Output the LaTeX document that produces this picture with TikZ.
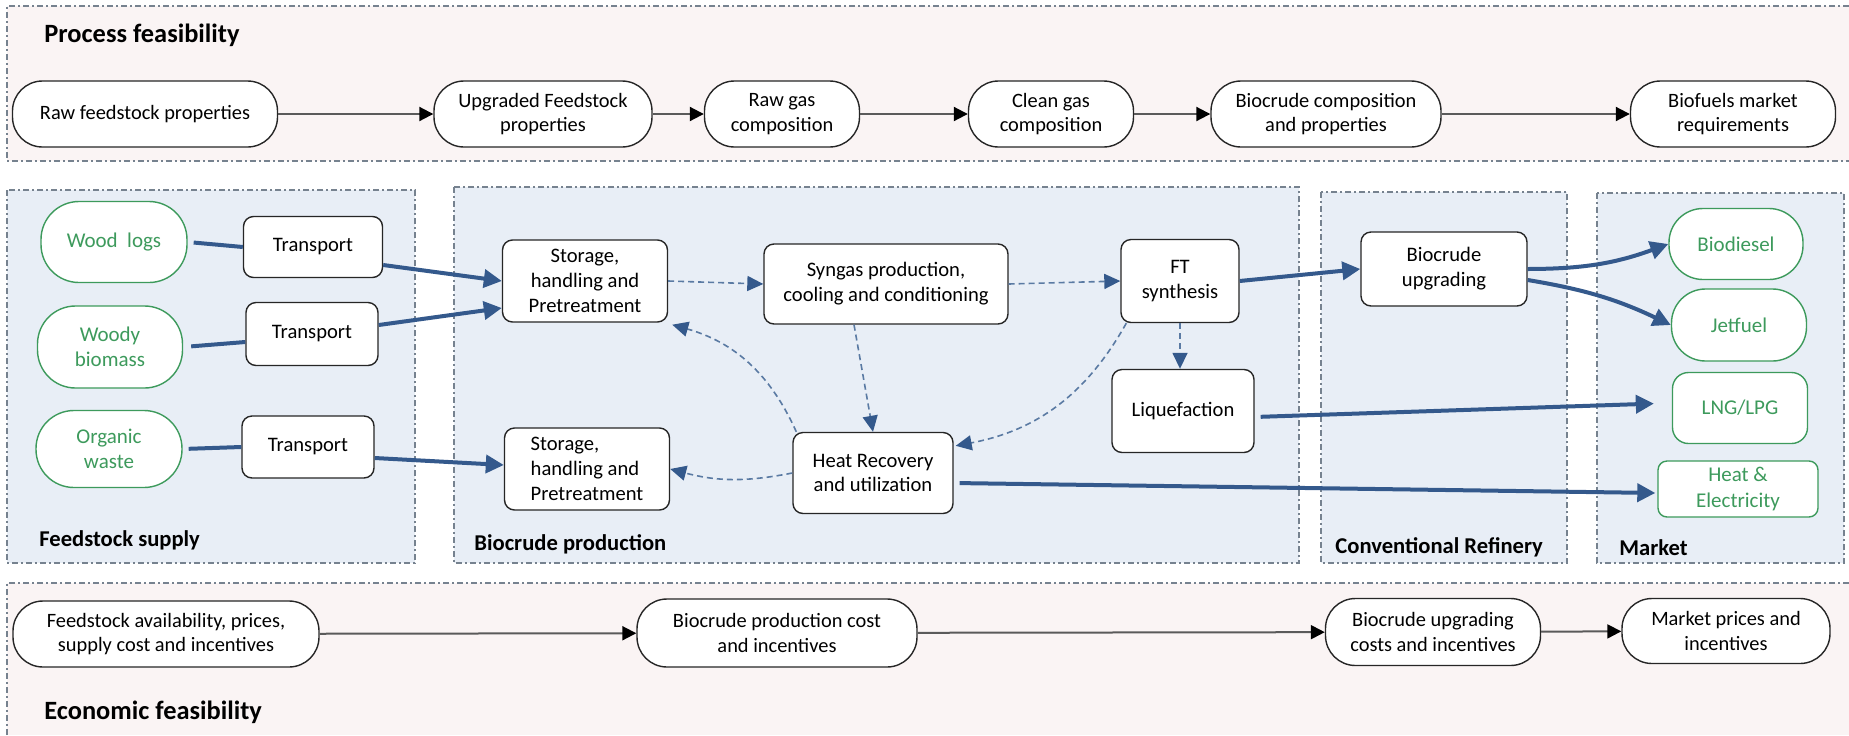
\documentclass[tikz,border=0pt]{standalone}
\usepackage{fontspec}
\setmainfont{Carlito}
\usepackage{tikz}
\usetikzlibrary{arrows.meta,positioning,calc}
\definecolor{flow_blue}{HTML}{34598C}
\definecolor{dash_blue}{HTML}{5A7AA3}
\definecolor{label_green}{HTML}{3D9A5C}
\definecolor{panel_blue}{HTML}{E8EEF6}
\definecolor{panel_pink}{HTML}{FAF4F4}
\definecolor{frame_gray}{HTML}{76828F}
\definecolor{link_gray}{HTML}{5A5A5A}
\tikzset{panel/.style={draw=frame_gray, line width=0.6pt, dash pattern=on 3pt off 1.5pt on 1pt off 1.5pt}}
\tikzset{feasnode/.style={rectangle, rounded corners=15pt, draw=black!85, line width=0.7pt, fill=white, align=center, minimum height=33pt, inner sep=1pt, font=\fontsize{10.2}{12.4}\selectfont}}
\tikzset{procbox/.style={rectangle, rounded corners=5pt, draw=black!85, line width=0.7pt, fill=white, align=center, inner sep=1pt, font=\fontsize{10.3}{12.4}\selectfont}}
\tikzset{sourcenode/.style={rectangle, rounded corners=19pt, draw=label_green, line width=0.7pt, fill=white, text=label_green, align=center, inner sep=1pt, font=\fontsize{10.5}{12.6}\selectfont}}
\tikzset{productnode/.style={sourcenode, rounded corners=17pt}}
\tikzset{paneltitle/.style={anchor=west, inner sep=0pt, font=\bfseries\fontsize{11.3}{13}\selectfont}}
\tikzset{feastitle/.style={anchor=west, inner sep=0pt, font=\bfseries\fontsize{13.2}{15}\selectfont}}
\tikzset{link/.style={draw=link_gray, line width=1pt, -{Triangle[length=7pt,width=7pt,color=black]}}}
\tikzset{flow/.style={draw=flow_blue, line width=2pt, -{Triangle[length=9pt,width=9pt]}}}
\tikzset{feedline/.style={draw=flow_blue, line width=2pt}}
\tikzset{heatflow/.style={draw=dash_blue, line width=0.8pt, dash pattern=on 3pt off 2pt, -{Triangle[length=8pt,width=7.5pt,color=flow_blue]}}}

\begin{document}
\begin{tikzpicture}[x=0.5pt, y=-0.5pt]
  \useasboundingbox (0,0) rectangle (1849,735);

  \fill[panel_pink] (7,6) rectangle (1849,161);
  \draw[panel] (1849,6) -- (7,6) -- (7,161) -- (1849,161);
  \draw[panel, fill=panel_blue] (7,190) rectangle (415,563);
  \draw[panel, fill=panel_blue] (454,187) rectangle (1299,563);
  \draw[panel, fill=panel_blue] (1321,192) rectangle (1567,563);
  \draw[panel, fill=panel_blue] (1597,193) rectangle (1844,563);
  \fill[panel_pink] (7,583) rectangle (1849,735);
  \draw[panel] (7,735) -- (7,583) -- (1849,583);

  \node[feastitle] (process-title) at (44,35) {Process feasibility};
  \node[feasnode, minimum width=132.5pt] (feas-1) at (145,114) {Raw feedstock properties};
  \node[feasnode, minimum width=109pt] (feas-2) at (543,114) {Upgraded Feedstock\\properties};
  \node[feasnode, minimum width=77.5pt] (feas-3) at (782,114) {Raw gas\\composition};
  \node[feasnode, minimum width=82.5pt] (feas-4) at (1051,114) {Clean gas\\composition};
  \node[feasnode, minimum width=115pt] (feas-5) at (1326,114) {Biocrude composition\\and properties};
  \node[feasnode, minimum width=102.5pt] (feas-6) at (1733,114) {Biofuels market\\requirements};

  \draw[link] (feas-1) -- (feas-2);
  \draw[link] (feas-2) -- (feas-3);
  \draw[link] (feas-3) -- (feas-4);
  \draw[link] (feas-4) -- (feas-5);
  \draw[link] (feas-5) -- (feas-6);

  \node[sourcenode, minimum width=73pt, minimum height=40.5pt] (wood-logs) at (114,242) {Wood\ \ logs};
  \node[sourcenode, minimum width=72.5pt, minimum height=41pt] (woody-biomass) at (110,347) {Woody\\biomass};
  \node[sourcenode, minimum width=73pt, minimum height=38.5pt] (organic-waste) at (109,449) {Organic\\waste};
  \node[procbox, minimum width=69.5pt, minimum height=30.5pt] (transport-1) at (313,247) {Transport};
  \node[procbox, minimum width=66pt, minimum height=31.5pt] (transport-2) at (312,334) {Transport};
  \node[procbox, minimum width=66pt, minimum height=31pt] (transport-3) at (308,447) {Transport};
  \node[procbox, minimum width=82.5pt, minimum height=41pt] (storage-1) at (585,281) {Storage,\\handling and\\Pretreatment};
  \node[procbox, align=left, minimum width=82.5pt, minimum height=41pt] (storage-2) at (587,469) {Storage,\\handling and\\Pretreatment};
  \node[procbox, minimum width=122pt, minimum height=40pt] (syngas) at (886,284) {Syngas production,\\cooling and conditioning};
  \node[procbox, minimum width=59pt, minimum height=41.5pt] (ft-synthesis) at (1180,281) {FT\\synthesis};
  \node[procbox, minimum width=71pt, minimum height=41.5pt] (liquefaction) at (1183,411) {Liquefaction};
  \node[procbox, minimum width=80pt, minimum height=40.5pt] (heat-recovery) at (873,473) {Heat Recovery\\and utilization};
  \node[procbox, minimum width=83pt, minimum height=37pt] (upgrading) at (1444,269) {Biocrude\\upgrading};
  \node[productnode, minimum width=67pt, minimum height=35.5pt] (biodiesel) at (1736,244) {Biodiesel};
  \node[productnode, minimum width=67.5pt, minimum height=36pt] (jetfuel) at (1739,325) {Jetfuel};
  \node[productnode, rounded corners=8pt, minimum width=67.5pt, minimum height=35.5pt] (lng-lpg) at (1740,408) {LNG/LPG};
  \node[productnode, rounded corners=4.5pt, minimum width=80pt, minimum height=28pt] (heat-elec) at (1738,489) {Heat \&\\Electricity};

  \node[paneltitle] (supply-title) at (39,540) {Feedstock supply};
  \node[paneltitle] (production-title) at (474,544) {Biocrude production};
  \node[paneltitle] (refinery-title) at (1335,547) {Conventional Refinery};
  \node[paneltitle] (market-title) at (1619,548) {Market};

  \draw[feedline, shorten <=3pt] (wood-logs.east) -- (transport-1.west);
  \draw[feedline, shorten <=4pt] (woody-biomass.east) -- ($(transport-2.west)+(0,8)$);
  \draw[feedline, shorten <=3pt] (organic-waste.east) -- (transport-3.west);
  \draw[flow] ($(transport-1.east)+(0,18)$) -- (storage-1.west);
  \draw[flow] ($(transport-2.east)+(0,-9)$) -- ($(storage-1.west)+(0,27)$);
  \draw[flow] ($(transport-3.east)+(0,11)$) -- ($(storage-2.west)+(0,-4)$);

  \draw[heatflow] (storage-1.east) -- (syngas.west);
  \draw[heatflow] (syngas.east) -- (ft-synthesis.west);
  \draw[heatflow] ($(syngas.south)+(-32,0)$) -- (heat-recovery.north);
  \draw[heatflow] ($(ft-synthesis.south west)+(6,0)$) to[bend left=25] ($(heat-recovery.north east)+(2,14)$);
  \draw[heatflow] ($(heat-recovery.north west)+(4,0)$) to[bend right=25] ($(storage-1.south east)+(4,2)$);
  \draw[heatflow] (heat-recovery.west) to[bend left=13] (storage-2.east);
  \draw[heatflow] (ft-synthesis.south) -- (ft-synthesis.south |- liquefaction.north);

  \draw[flow] (ft-synthesis.east) -- (upgrading.west);
  \draw[flow] (upgrading.east) to[bend right=10] (biodiesel.west);
  \draw[flow] ($(upgrading.east)+(0,11)$) to[bend left=8] (jetfuel.west);
  \draw[flow, shorten <=3pt, shorten >=9pt] ($(liquefaction.east)+(0,6)$) -- ($(lng-lpg.west)+(0,-5)$);
  \draw[flow, shorten <=3pt, shorten >=1pt] ($(heat-recovery.east)+(0,10)$) -- ($(heat-elec.west)+(0,4)$);

  \node[feasnode, minimum width=153pt] (econ-1) at (166,634) {Feedstock availability, prices,\\supply cost and incentives};
  \node[feasnode, minimum width=140pt, minimum height=34pt] (econ-2) at (777,633) {Biocrude production cost\\and incentives};
  \node[feasnode, minimum width=107.5pt, minimum height=33.5pt] (econ-3) at (1433,632) {Biocrude upgrading\\costs and incentives};
  \node[feasnode, minimum width=104pt, minimum height=32.5pt] (econ-4) at (1726,631) {Market prices and\\incentives};
  \node[feastitle] (economic-title) at (44,712) {Economic feasibility};

  \draw[link] (econ-1) -- (econ-2);
  \draw[link] (econ-2) -- (econ-3);
  \draw[link] (econ-3) -- (econ-4);
\end{tikzpicture}
\end{document}
